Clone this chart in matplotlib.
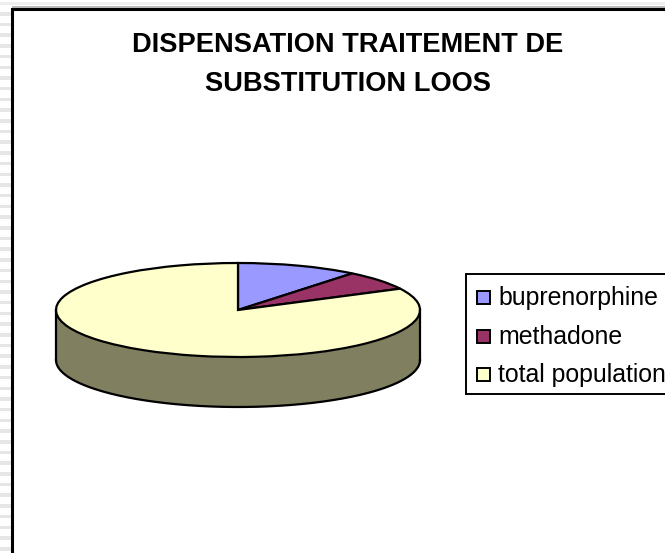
import numpy as np
import matplotlib
matplotlib.use('Agg')
import matplotlib.pyplot as plt
from matplotlib.patches import Rectangle

W, H = 665, 553
TITLE = 'DISPENSATION TRAITEMENT DE\nSUBSTITUTION LOOS'
labels = ['buprenorphine', 'methadone', 'total population']
values = [10.8, 6.7, 82.5]
colors = ['#9999FF', '#993366', '#FFFFCC']
SIDE_COLOR = '#808060'

plt.rcParams['font.family'] = ['Liberation Sans', 'DejaVu Sans']


def px_box(left, top, right, bottom):
    return [left / W, 1 - bottom / H, (right - left) / W, (bottom - top) / H]


fig = plt.figure(figsize=(W / 100, H / 100), dpi=100, facecolor='white')

# striped page showing behind the chart
bg = fig.add_axes([0, 0, 1, 1], zorder=0)
bg.set_xlim(0, W)
bg.set_ylim(H, 0)
bg.axis('off')
for y in np.arange(12, H, 10.7):
    bg.add_patch(Rectangle((0, y), 11, 3.5, fc='#e6e6e6', ec='none'))
bg.add_patch(Rectangle((0, 2), W, 3, fc='#eeeeee', ec='none'))
bg.add_patch(Rectangle((12, 6), W, 2, fc='#bbbbbb', ec='none'))
bg.add_patch(Rectangle((12, 9), W, H, fc='white', ec='black', lw=2.2))

fig.text(348 / W, 1 - 64.5 / H, TITLE, ha='center', va='center',
         fontsize=19.6, fontweight='bold', linespacing=1.62)

# flattened pie, the axes box is the top ellipse
ax = fig.add_axes(px_box(56, 263, 420, 357), zorder=2)
depth = 100 / 94 * 1.0
t = np.linspace(np.pi, 2 * np.pi, 200)
ax.fill_between(np.cos(t), np.sin(t) - depth, np.sin(t), color=SIDE_COLOR, lw=0, clip_on=False)
ax.plot(np.cos(t), np.sin(t) - depth, color='black', lw=1.6, clip_on=False)
ax.plot([-1, -1], [0, -depth], color='black', lw=1.6, clip_on=False)
ax.plot([1, 1], [0, -depth], color='black', lw=1.6, clip_on=False)
ax.pie(values, colors=colors, startangle=90, counterclock=False, radius=1,
       wedgeprops={'edgecolor': 'black', 'linewidth': 1.6, 'clip_on': False})
ax.set_aspect('auto')
ax.set_xlim(-1, 1)
ax.set_ylim(-1, 1)

# legend, its box runs off the right edge
bg.add_patch(Rectangle((466, 274), 230, 120, fc='white', ec='black', lw=1.4))
ys = [298, 337, 375]
for name, col, y in zip(labels, colors, ys):
    bg.add_patch(Rectangle((477, y - 7), 13, 13, fc=col, ec='black', lw=1.4))
    bg.text(498, y, name, fontsize=17.9, va='center', ha='left')

fig.savefig('out.png', dpi=100)
